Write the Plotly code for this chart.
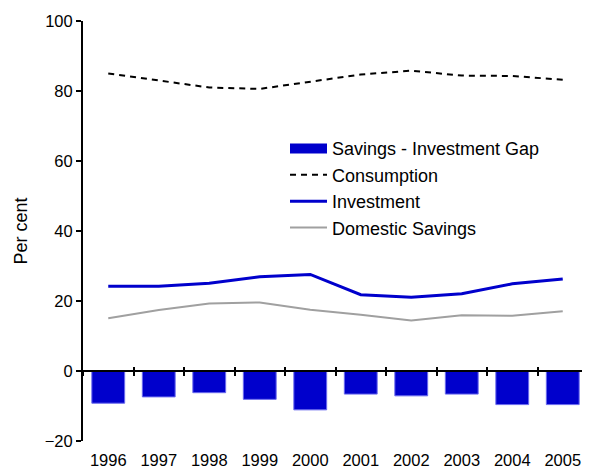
import plotly.graph_objects as go

years = ["1996", "1997", "1998", "1999", "2000", "2001", "2002", "2003", "2004", "2005"]
gap = [-9.2, -7.4, -6.2, -8.1, -11.1, -6.6, -7.1, -6.6, -9.6, -9.6]
consumption = [85.0, 83.0, 81.0, 80.6, 82.6, 84.7, 85.8, 84.4, 84.3, 83.2]
investment = [24.2, 24.2, 25.1, 26.9, 27.6, 21.8, 21.1, 22.1, 24.9, 26.3]
savings = [15.1, 17.4, 19.3, 19.6, 17.5, 16.1, 14.4, 15.9, 15.8, 17.1]
y_ticks = [-20, 0, 20, 40, 60, 80, 100]

xi = list(range(len(years)))
BLUE = "#0000CC"
FONT = "Liberation Sans, Arial, sans-serif"

fig = go.Figure()
fig.add_trace(go.Bar(x=xi, y=gap, width=0.65, marker=dict(color=BLUE, line=dict(color="#6A6AEE", width=1)),
                     showlegend=False, hoverinfo="skip"))
# legend proxy for bars (wide rectangle symbol)
fig.add_trace(go.Scatter(x=[None], y=[None], mode="lines", name="Savings - Investment Gap",
                         line=dict(color=BLUE, width=12)))
fig.add_trace(go.Scatter(x=xi, y=consumption, mode="lines", name="Consumption",
                         line=dict(color="black", width=2, dash="6px,5px")))
fig.add_trace(go.Scatter(x=xi, y=investment, mode="lines", name="Investment",
                         line=dict(color=BLUE, width=3)))
fig.add_trace(go.Scatter(x=xi, y=savings, mode="lines", name="Domestic Savings",
                         line=dict(color="#A0A0A0", width=2)))
# invisible carriers so the zero-line axes (with crossing ticks) are drawn
for ax in ("x2", "x3"):
    fig.add_trace(go.Scatter(x=xi, y=gap, xaxis=ax, yaxis="y", mode="markers",
                             marker=dict(opacity=0), showlegend=False, hoverinfo="skip"))

zero_pos = (0 - y_ticks[0]) / (y_ticks[-1] - y_ticks[0])

fig.update_layout(
    width=582, height=460,
    margin=dict(l=75, r=2, t=13, b=27),
    paper_bgcolor="white", plot_bgcolor="white",
    font=dict(family=FONT, size=16.5, color="black"),
    showlegend=True,
    legend=dict(x=(285 - 83) / 505, y=0.74, xanchor="left", yanchor="top", bgcolor="rgba(0,0,0,0)",
                font=dict(size=18), itemwidth=37),
    xaxis=dict(range=[-0.5, 9.5], tickmode="array", tickvals=xi, ticktext=years,
               ticks="outside", ticklen=4, tickcolor="rgba(0,0,0,0)", showline=False,
               showgrid=False, zeroline=False, automargin=False),
    xaxis2=dict(overlaying="x", anchor="free", position=zero_pos, range=[-0.5, 9.5],
                tickmode="linear", tick0=0.5, dtick=1, ticks="outside", ticklen=4, tickwidth=2,
                tickcolor="black", showticklabels=False, showline=True, linecolor="black",
                linewidth=2, showgrid=False, zeroline=False),
    xaxis3=dict(overlaying="x", anchor="free", position=zero_pos, range=[-0.5, 9.5],
                tickmode="linear", tick0=0.5, dtick=1, ticks="inside", ticklen=4, tickwidth=2,
                tickcolor="black", showticklabels=False, showline=False,
                showgrid=False, zeroline=False),
    yaxis=dict(range=[-20, 100], tickmode="array", tickvals=y_ticks, ticks="outside",
               ticklen=5, tickwidth=2, tickcolor="black", showline=True, linecolor="black",
               linewidth=2, showgrid=False, zeroline=False, automargin=False,
               title=dict(text="Per cent", font=dict(size=18), standoff=12)),
)

fig.write_html("out.html")
